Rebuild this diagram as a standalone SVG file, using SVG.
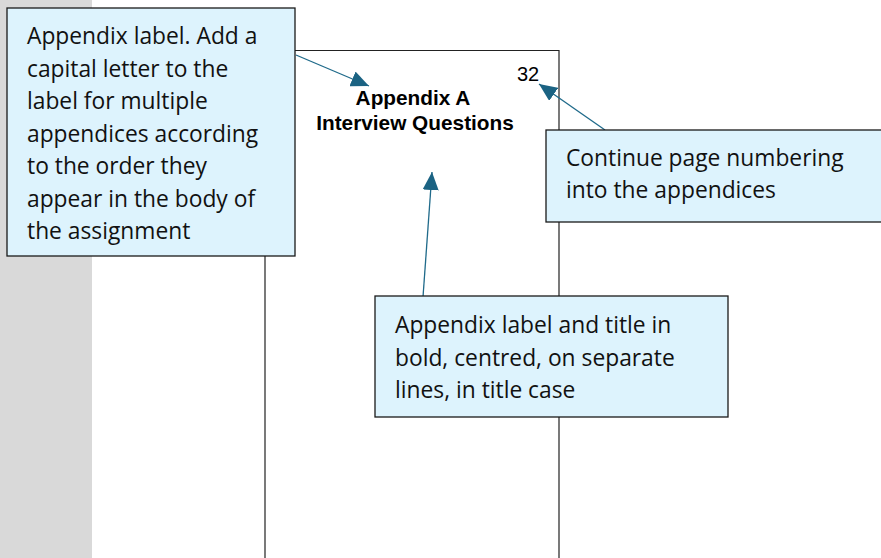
<svg xmlns="http://www.w3.org/2000/svg" width="881" height="558" viewBox="0 0 881 558">
<style>
.note{fill:#ddf3fd;stroke:#1a1a1a;stroke-width:1.3}
.nt{font-family:"Open Sans","Noto Sans",sans-serif;font-size:22.8px;fill:#111}
.pg{font-family:"Liberation Sans",Arial,sans-serif;fill:#000}
.b{font-weight:bold;font-size:20.8px}
.conn{stroke:#1f6a8a;stroke-width:1.3;fill:none;marker-end:url(#ah)}
</style>
<defs>
<marker id="ah" markerUnits="userSpaceOnUse" markerWidth="20" markerHeight="16" refX="18" refY="8" orient="auto">
<path d="M0,0 L18,8 L0,16 Z" fill="#1b6383"/>
</marker>
</defs>
<rect x="0" y="0" width="881" height="558" fill="#fff"/>
<rect x="0" y="0" width="92" height="558" fill="#d9d9d9"/>
<g id="page">
<path d="M265,558 V50.5 H559 V558" fill="#fff" stroke="#222" stroke-width="1.2"/>
<text class="pg" x="528" y="81" font-size="20" text-anchor="middle">32</text>
<text class="pg b" x="413" y="105" text-anchor="middle">Appendix A</text>
<text class="pg b" x="415" y="130" text-anchor="middle">Interview Questions</text>
</g>
<g id="connectors">
<line class="conn" x1="296" y1="55" x2="369" y2="86"/>
<line class="conn" x1="605" y1="130" x2="539" y2="84"/>
<line class="conn" x1="423" y1="297" x2="432" y2="172"/>
</g>
<g id="note-label">
<rect class="note" x="7" y="8" width="288" height="248"/>
<text class="nt" x="27"><tspan x="27" y="44">Appendix label. Add a</tspan><tspan x="27" y="76.5">capital letter to the</tspan><tspan x="27" y="109">label for multiple</tspan><tspan x="27" y="141.5">appendices according</tspan><tspan x="27" y="174">to the order they</tspan><tspan x="27" y="206.5">appear in the body of</tspan><tspan x="27" y="239">the assignment</tspan></text>
</g>
<g id="note-numbering">
<rect class="note" x="546" y="130" width="336" height="92"/>
<text class="nt"><tspan x="566" y="166">Continue page numbering</tspan><tspan x="566" y="198">into the appendices</tspan></text>
</g>
<g id="note-title">
<rect class="note" x="375" y="296" width="353" height="121"/>
<text class="nt"><tspan x="395" y="333">Appendix label and title in</tspan><tspan x="395" y="366">bold, centred, on separate</tspan><tspan x="395" y="398">lines, in title case</tspan></text>
</g>
</svg>
